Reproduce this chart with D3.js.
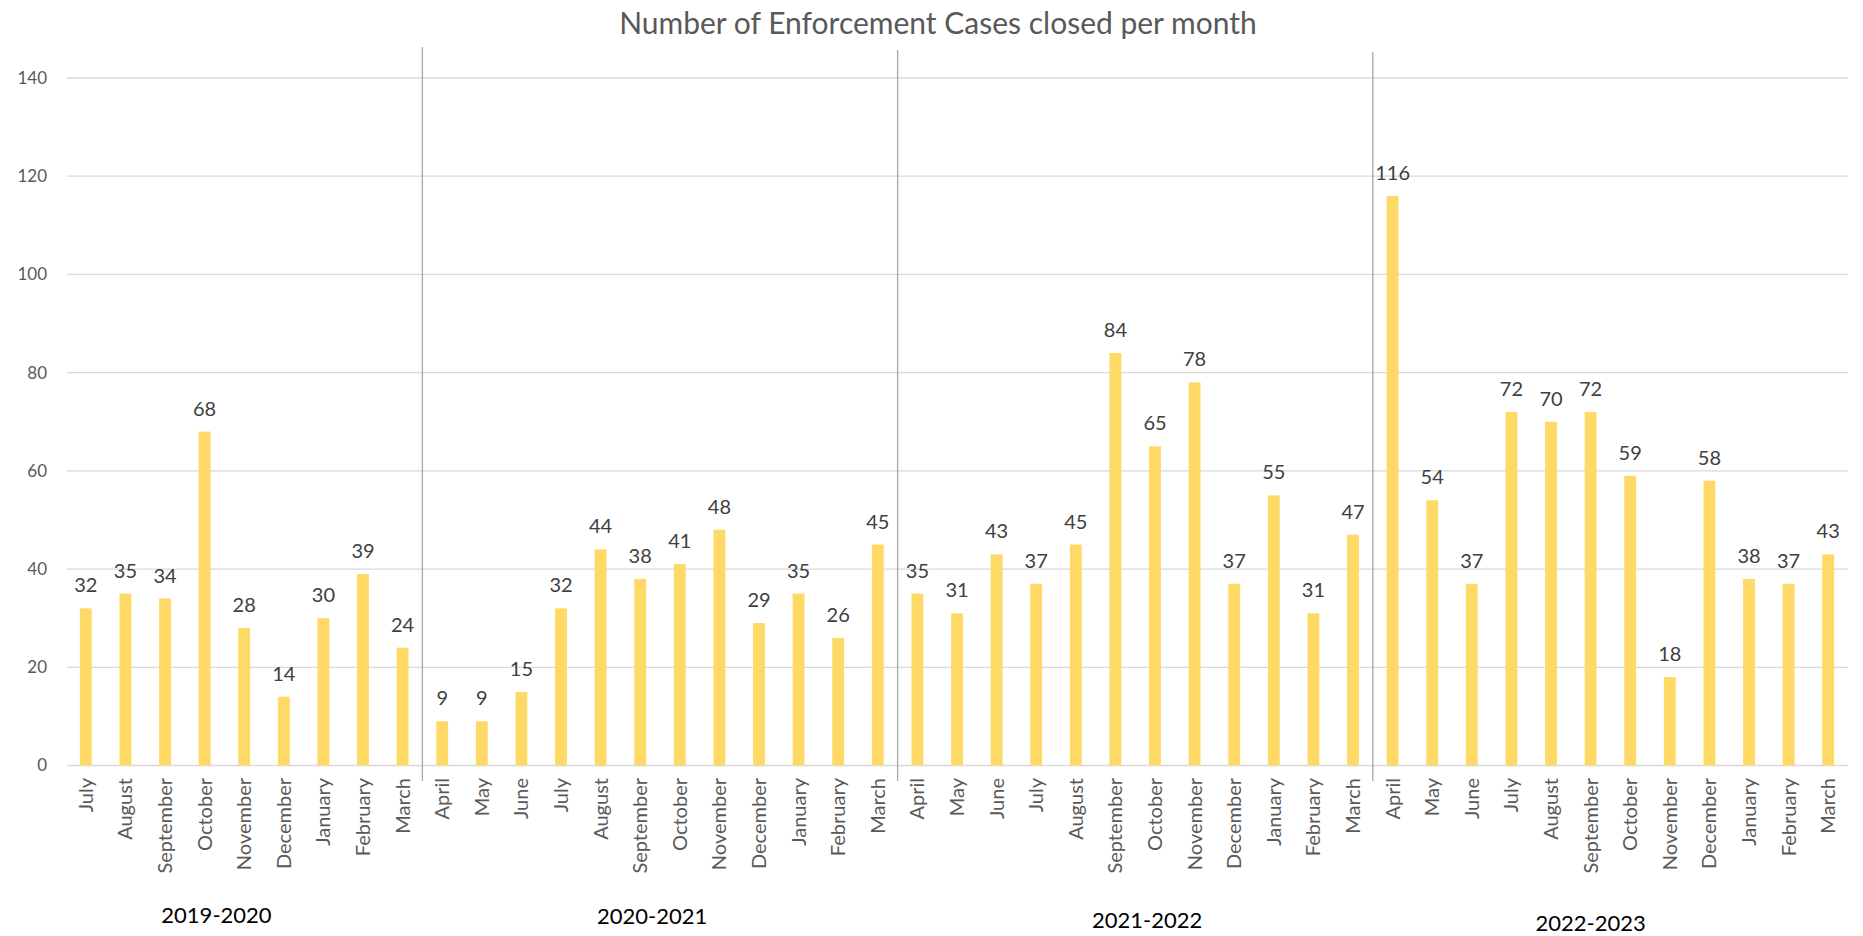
<!DOCTYPE html>
<html><head><meta charset="utf-8">
<script src="https://cdn.jsdelivr.net/npm/d3@7"></script>
<style>
html,body{margin:0;padding:0;background:#fff;}
svg{display:block;font-family:Lato,"Open Sans",sans-serif;}
</style></head>
<body>
<svg id="chart" width="1863" height="936"></svg>
<script>
// ---- data ----
const fiscalYears = ["2019-2020","2020-2021","2021-2022","2022-2023"];
const months1920 = ["July","August","September","October","November","December","January","February","March"];
const values1920 = [32,35,34,68,28,14,30,39,24];
const months2021 = ["April","May","June","July","August","September","October","November","December","January","February","March"];
const values2021 = [9,9,15,32,44,38,41,48,29,35,26,45];
const months2122 = ["April","May","June","July","August","September","October","November","December","January","February","March"];
const values2122 = [35,31,43,37,45,84,65,78,37,55,31,47];
const months2223 = ["April","May","June","July","August","September","October","November","December","January","February","March"];
const values2223 = [116,54,37,72,70,72,59,18,58,38,37,43];
const yTicks = [0,20,40,60,80,100,120,140];
const titleText = "Number of Enforcement Cases closed per month";

// build flat table
const groups = [
  {fy: fiscalYears[0], months: months1920, values: values1920},
  {fy: fiscalYears[1], months: months2021, values: values2021},
  {fy: fiscalYears[2], months: months2122, values: values2122},
  {fy: fiscalYears[3], months: months2223, values: values2223}
];
const rows = [];
groups.forEach((g, gi) => g.months.forEach((m, i) => rows.push({key: gi + "-" + i, month: m, value: g.values[i], group: gi, first: i === 0})));

// ---- layout ----
const svg = d3.select("#chart");
const x = d3.scaleBand().domain(rows.map(r => r.key)).range([66, 1848]).paddingInner(0.7).paddingOuter(0.35);
const y = d3.scaleLinear().domain([0, 140]).range([765.5, 78]);
const textGrey = "#595959";

// title
svg.append("text").attr("x", 938).attr("y", 34).attr("text-anchor", "middle")
  .attr("font-size", 30).attr("fill", textGrey).text(titleText);

// gridlines
svg.append("g").selectAll("line").data(yTicks).join("line")
  .attr("x1", 67).attr("x2", 1848)
  .attr("y1", d => y(d)).attr("y2", d => y(d))
  .attr("stroke", "#d9d9d9").attr("stroke-width", 1.3);

// y labels
svg.append("g").selectAll("text").data(yTicks).join("text")
  .attr("x", 47).attr("y", d => y(d)).attr("dy", "0.35em").attr("text-anchor", "end")
  .attr("font-size", 17).attr("fill", textGrey).text(d => d);

// bars
svg.append("g").selectAll("rect").data(rows).join("rect")
  .attr("x", d => x(d.key)).attr("width", x.bandwidth())
  .attr("y", d => y(d.value)).attr("height", d => y(0) - y(d.value))
  .attr("fill", "#FFD966");

// value labels
svg.append("g").selectAll("text").data(rows).join("text")
  .attr("x", d => x(d.key) + x.bandwidth() / 2).attr("y", d => y(d.value) - 16)
  .attr("text-anchor", "middle").attr("font-size", 20).attr("fill", "#404040").text(d => d.value);

// month labels
svg.append("g").selectAll("text").data(rows).join("text")
  .attr("transform", d => `translate(${x(d.key) + x.bandwidth() / 2},778) rotate(-90)`)
  .attr("dy", "0.35em").attr("text-anchor", "end")
  .attr("font-size", 20).attr("fill", textGrey).text(d => d.month);

// group separators
const sepTops = [47, 50, 52];
const gap = (x.step() - x.bandwidth()) / 2;
svg.append("g").selectAll("line").data(rows.filter(r => r.first && r.group > 0)).join("line")
  .attr("x1", d => x(d.key) - gap).attr("x2", d => x(d.key) - gap)
  .attr("y1", (d, i) => sepTops[i]).attr("y2", 781)
  .attr("stroke", "#a6a6a6").attr("stroke-width", 1.3);

// fiscal year labels (positioned in band-index units)
const fyAt = [3.3, 14.3, 26.8, 38.0];
const fyY = [923, 924, 928, 931];
svg.append("g").selectAll("text").data(fiscalYears).join("text")
  .attr("x", (d, i) => x.range()[0] + x.step() * (fyAt[i] + 0.5))
  .attr("y", (d, i) => fyY[i]).attr("text-anchor", "middle")
  .attr("font-size", 22).attr("fill", "#000").text(d => d);
</script>
</body></html>
